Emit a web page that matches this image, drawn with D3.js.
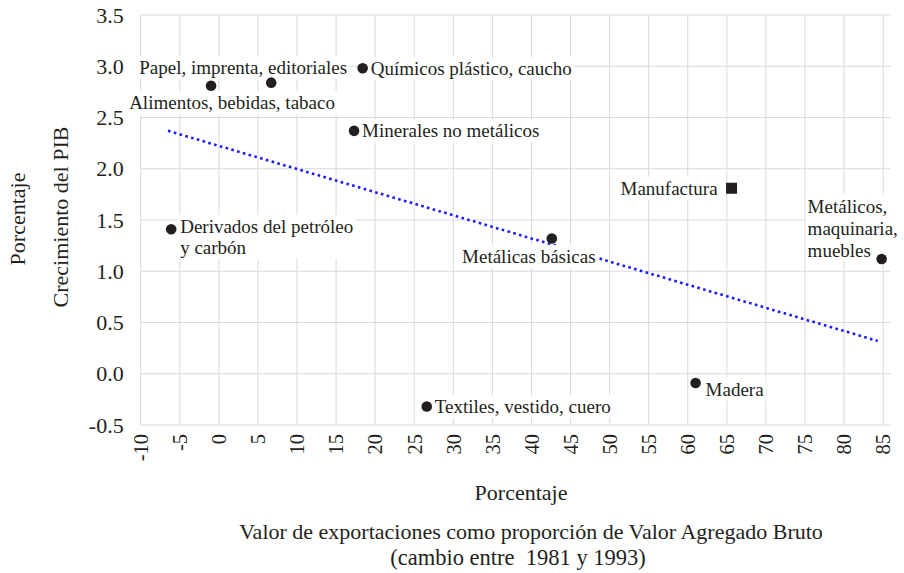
<!DOCTYPE html>
<html lang="es">
<head>
<meta charset="UTF-8">
<title>Crecimiento del PIB vs exportaciones</title>
<script src="https://d3js.org/d3.v7.min.js"></script>
<style>
  body { margin: 0; background: #fff; }
</style>
</head>
<body>
<script>
// sector data (x: cambio en exportaciones / VAB, y: crecimiento del PIB)
var sectors = ["Derivados del petróleo y carbón", "Alimentos, bebidas, tabaco", "Papel, imprenta, editoriales",
               "Químicos plástico, caucho", "Minerales no metálicos", "Textiles, vestido, cuero",
               "Metálicas básicas", "Manufactura", "Madera", "Metálicos, maquinaria, muebles"];
var xValues = [-6.1, -1.0, 6.7, 18.4, 17.3, 26.6, 42.6, 65.6, 61.0, 84.8];
var yValues = [1.41, 2.81, 2.84, 2.98, 2.37, -0.32, 1.32, 1.81, -0.09, 1.12];
var markers = ["circle", "circle", "circle", "circle", "circle", "circle", "circle", "square", "circle", "circle"];

// linear trend line endpoints
var trendX = [-6.5, 84.3];
var trendY = [2.37, 0.32];

var xTicks = [-10, -5, 0, 5, 10, 15, 20, 25, 30, 35, 40, 45, 50, 55, 60, 65, 70, 75, 80, 85];
var yTicks = [-0.5, 0.0, 0.5, 1.0, 1.5, 2.0, 2.5, 3.0, 3.5];

// label placement relative to each marker (layout only)
var labelLayout = {
  "Derivados del petróleo y carbón": {dx: 9, dy: -3, anchor: "start", gap: "1.1em", lines: ["Derivados del petróleo", "y carbón"]},
  "Alimentos, bebidas, tabaco": {dx: 21, dy: 17, anchor: "middle"},
  "Papel, imprenta, editoriales": {dx: -28, dy: -15, anchor: "middle"},
  "Químicos plástico, caucho": {dx: 8, dy: 0, anchor: "start"},
  "Minerales no metálicos": {dx: 8, dy: 0, anchor: "start"},
  "Textiles, vestido, cuero": {dx: 8, dy: 0, anchor: "start"},
  "Metálicas básicas": {dx: -23, dy: 18, anchor: "middle"},
  "Manufactura": {dx: -14, dy: 0, anchor: "end"},
  "Madera": {dx: 10, dy: 6, anchor: "start"},
  "Metálicos, maquinaria, muebles": {dx: -74, dy: -53, anchor: "start", gap: "1.16em", lines: ["Metálicos,", "maquinaria,", "muebles"]}
};

var FONT = "'Liberation Serif', 'Times New Roman', serif";
var INK = "#231f20";
var W = 904, H = 573;
var svg = d3.select("body").append("svg").attr("width", W).attr("height", H)
  .style("font-family", FONT);

var x = d3.scaleLinear().domain([-10, 86]).range([140.7, 891]);
var y = d3.scaleLinear().domain([-0.5, 3.5]).range([425, 15]);

// gridlines
svg.append("g").selectAll("line").data(xTicks).enter().append("line")
  .attr("x1", d => x(d)).attr("x2", d => x(d))
  .attr("y1", y(3.5)).attr("y2", y(-0.5))
  .attr("stroke", "#d9d9d9").attr("stroke-width", 1);
svg.append("g").selectAll("line").data(yTicks).enter().append("line")
  .attr("x1", x(-10)).attr("x2", x(86))
  .attr("y1", d => y(d)).attr("y2", d => y(d))
  .attr("stroke", "#d9d9d9").attr("stroke-width", 1);

// axes (text only, grid serves as lines)
var yAxis = svg.append("g").attr("transform", "translate(" + (x(-10) - 14) + ",0)")
  .call(d3.axisLeft(y).tickValues(yTicks).tickSize(0).tickFormat(d => d.toFixed(1)));
yAxis.select(".domain").remove();
yAxis.attr("font-family", null);
yAxis.selectAll("text").style("font-family", FONT).style("font-size", "22px").attr("fill", INK);

var xAxis = svg.append("g").attr("transform", "translate(0," + (y(-0.5) + 9) + ")")
  .call(d3.axisBottom(x).tickValues(xTicks).tickSize(0).tickFormat(d => String(d)));
xAxis.select(".domain").remove();
xAxis.attr("font-family", null);
xAxis.selectAll("text")
  .style("font-family", FONT).style("font-size", "20.5px").attr("fill", INK)
  .attr("transform", "rotate(-90)")
  .attr("x", 0).attr("y", 0).attr("dy", "0.33em")
  .style("text-anchor", "end");

// trend line
svg.append("line")
  .attr("x1", x(trendX[0])).attr("y1", y(trendY[0]))
  .attr("x2", x(trendX[1])).attr("y2", y(trendY[1]))
  .attr("stroke", "#1a1aff").attr("stroke-width", 2.6)
  .attr("stroke-dasharray", "2.6,3.4");

var data = sectors.map(function(s, i) {
  return {name: s, x: xValues[i], y: yValues[i], marker: markers[i]};
});

// labels with white boxes
var labels = svg.append("g").selectAll("g").data(data).enter().append("g")
  .attr("transform", d => "translate(" + (x(d.x) + labelLayout[d.name].dx) + "," + (y(d.y) + labelLayout[d.name].dy) + ")");
labels.each(function(d) {
  var g = d3.select(this);
  var L = labelLayout[d.name];
  var lines = L.lines || [d.name];
  var t = g.append("text").attr("text-anchor", L.anchor)
    .style("font-family", FONT).style("font-size", "19px").attr("fill", INK);
  lines.forEach(function(line, i) {
    t.append("tspan").attr("x", 0).attr("dy", i === 0 ? "0.35em" : L.gap).text(line);
  });
  var bb = t.node().getBBox();
  g.insert("rect", "text")
    .attr("x", bb.x - 2).attr("y", bb.y - 1)
    .attr("width", bb.width + 4).attr("height", bb.height + 2)
    .attr("fill", "#fff");
});

// markers
svg.append("g").selectAll("circle").data(data.filter(d => d.marker === "circle")).enter().append("circle")
  .attr("cx", d => x(d.x)).attr("cy", d => y(d.y)).attr("r", 5.3).attr("fill", INK);
svg.append("g").selectAll("rect").data(data.filter(d => d.marker === "square")).enter().append("rect")
  .attr("x", d => x(d.x) - 5.5).attr("y", d => y(d.y) - 5.5).attr("width", 11).attr("height", 11)
  .attr("fill", INK);

// axis titles
function title(tx, ty, rot, size, str) {
  svg.append("text").attr("transform", "translate(" + tx + "," + ty + ")" + (rot ? " rotate(-90)" : ""))
    .attr("text-anchor", "middle").attr("dy", "0.35em")
    .style("font-family", FONT).style("font-size", size + "px").style("white-space", "pre")
    .attr("fill", INK).text(str);
}
title(17, 219, true, 22, "Porcentaje");
title(60, 217, true, 22, "Crecimiento del PIB");
title(521, 492, false, 22, "Porcentaje");
title(531, 531, false, 22, "Valor de exportaciones como proporción de Valor Agregado Bruto");
title(518, 557, false, 22.5, "(cambio entre  1981 y 1993)");
</script>
</body>
</html>
